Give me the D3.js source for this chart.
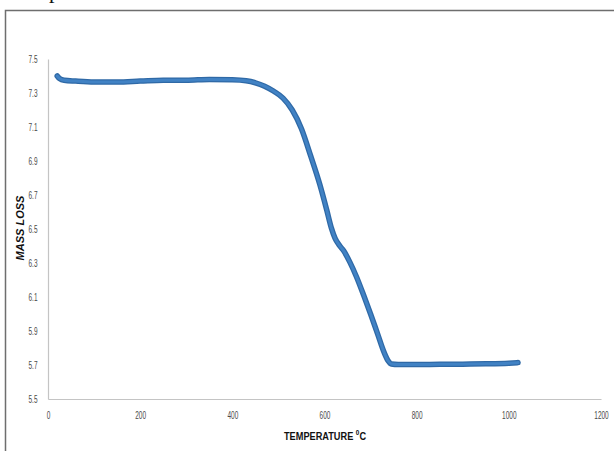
<!DOCTYPE html>
<html>
<head>
<meta charset="utf-8">
<script src="https://cdn.jsdelivr.net/npm/d3@7"></script>
<style>
  html, body { margin: 0; padding: 0; background: #fff; }
  svg { display: block; }
</style>
</head>
<body>
<svg id="chart" width="614" height="451"></svg>
<script>
// Thermogravimetric curve: mass vs temperature
const temperature = [20, 25, 35, 60, 100, 150, 200, 250, 300, 350, 400, 430, 450, 470, 490, 510, 530, 550, 570, 590, 605, 615, 623, 632, 642, 655, 670, 685, 700, 715, 730, 738, 745, 760, 800, 850, 900, 950, 1000, 1020];
const massLoss    = [7.40, 7.385, 7.375, 7.37, 7.365, 7.365, 7.37, 7.375, 7.375, 7.38, 7.378, 7.372, 7.36, 7.34, 7.31, 7.27, 7.20, 7.09, 6.93, 6.76, 6.61, 6.505, 6.445, 6.405, 6.37, 6.305, 6.215, 6.11, 6.00, 5.885, 5.77, 5.725, 5.706, 5.703, 5.703, 5.704, 5.705, 5.707, 5.711, 5.714];

const xTicks = [0, 200, 400, 600, 800, 1000, 1200];
const yTicks = [5.5, 5.7, 5.9, 6.1, 6.3, 6.5, 6.7, 6.9, 7.1, 7.3, 7.5];

const xTitle = "TEMPERATURE ";
const xTitleSup = "0";
const xTitleUnit = "C";
const yTitle = "MASS LOSS";

const svg = d3.select("#chart");
const labelFont = "'Liberation Sans', Arial, sans-serif";

// Page frame with a stray glyph from the surrounding document
svg.append("text")
  .attr("x", 49).attr("y", -2)
  .attr("font-family", "'Liberation Serif', serif")
  .attr("font-size", 22)
  .attr("fill", "#111")
  .text("p");
svg.append("path")
  .attr("d", "M5.5,451 V10.5 H614")
  .attr("fill", "none")
  .attr("stroke", "#6e6e6e")
  .attr("stroke-width", 1.5);

const x = d3.scaleLinear().domain([0, 1200]).range([48, 601]);
const y = d3.scaleLinear().domain([5.5, 7.5]).range([399, 59]);

// Axes (labels are horizontally condensed)
const squeeze = 0.65;
const xAxis = svg.append("g")
  .attr("transform", `translate(0,${y(5.5)})`)
  .call(d3.axisBottom(x).tickValues(xTicks).tickSize(0).tickPadding(13).tickFormat(d3.format("d")));
const yAxis = svg.append("g")
  .attr("transform", `translate(${x(0)},0)`)
  .call(d3.axisLeft(y).tickValues(yTicks).tickSize(0).tickPadding(10).tickFormat(d3.format(".1f")));

[xAxis, yAxis].forEach(g => {
  g.select(".domain").attr("stroke", "#c4c4c4").attr("stroke-width", 1.2);
  g.selectAll("text")
    .attr("font-family", labelFont)
    .attr("font-size", 10)
    .attr("fill", "#4a4a4a");
});
xAxis.selectAll("text").attr("transform", `scale(${squeeze},1)`);
yAxis.selectAll("text")
  .attr("x", 0)
  .attr("transform", `translate(-10.5,0) scale(${squeeze},1)`);

// Data line
const pts = temperature.map((t, i) => [t, massLoss[i]]);
const line = d3.line()
  .x(d => x(d[0]))
  .y(d => y(d[1]))
  .curve(d3.curveMonotoneX);

svg.append("path")
  .datum(pts)
  .attr("d", line)
  .attr("fill", "none")
  .attr("stroke", "#2f69a6")
  .attr("stroke-width", 5.5)
  .attr("stroke-linecap", "round")
  .attr("stroke-linejoin", "round");
svg.append("path")
  .datum(pts)
  .attr("d", line)
  .attr("fill", "none")
  .attr("stroke", "#4182c4")
  .attr("stroke-width", 3)
  .attr("stroke-linecap", "round")
  .attr("stroke-linejoin", "round");

// Axis titles
const xt = svg.append("text")
  .attr("transform", "translate(325,440) scale(0.8,1)")
  .attr("text-anchor", "middle")
  .attr("font-family", labelFont)
  .attr("font-weight", "bold")
  .attr("font-size", 11.5)
  .attr("fill", "#111");
xt.append("tspan").text(xTitle);
xt.append("tspan").attr("dy", -5).attr("font-size", 8).text(xTitleSup);
xt.append("tspan").attr("dy", 5).text(xTitleUnit);

svg.append("text")
  .attr("transform", "translate(24,228) rotate(-90)")
  .attr("text-anchor", "middle")
  .attr("font-family", labelFont)
  .attr("font-weight", "bold")
  .attr("font-style", "italic")
  .attr("font-size", 11)
  .attr("fill", "#111")
  .text(yTitle);
</script>
</body>
</html>
